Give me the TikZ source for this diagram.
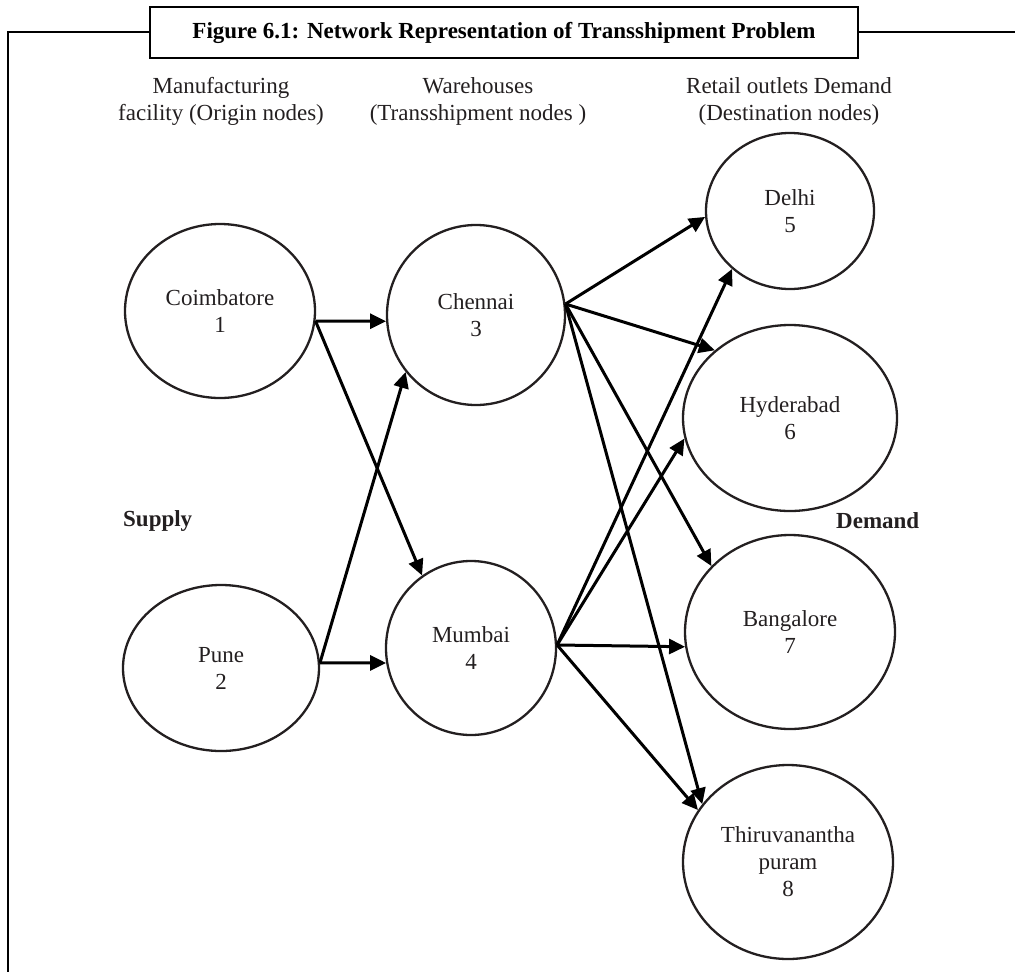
\documentclass[tikz,border=0pt]{standalone}
\usepackage{fontspec}
\setmainfont{Liberation Serif}
\usetikzlibrary{shapes.geometric,arrows.meta}
\definecolor{ink}{RGB}{35,31,32}
\newcommand\citytxt{\fontsize{23}{27}\selectfont}
\newcommand\titletxt{\fontsize{23}{26}\selectfont}
\begin{document}
\begin{tikzpicture}[x=1pt,y=-1pt,
  city/.style={ellipse,draw=ink,line width=2.3pt,inner sep=0pt,align=center,
    font=\citytxt,text=ink},
  flow/.style={line width=3pt,-{Triangle[length=16pt,width=15pt]}},
  head/.style={align=center,font=\citytxt,text=ink,inner sep=0pt},
  side/.style={anchor=base west,inner sep=0pt,font=\citytxt\bfseries,text=ink},
  frame/.style={line width=2.6pt},
]
\useasboundingbox (0,0) rectangle (1015,972);

% title box and the surrounding frame
\node[draw,frame,minimum width=708pt,minimum height=51pt,inner sep=0pt,
  font=\titletxt\bfseries] (ttl) at (504,32.5)
  {Figure 6.1: Network Representation of Transshipment Problem};
\draw[frame] (ttl.west |- 0,32) -- (8,32) -- (8,975);
\draw[frame] (ttl.east |- 0,32) -- (1015,32);

% column headings
\node[head] (hmf) at (221,101) {Manufacturing\\facility (Origin nodes)};
\node[head] (hwh) at (478,101) {Warehouses\\(Transshipment nodes )};
\node[head] (hrt) at (789,101) {Retail outlets Demand\\(Destination nodes)};
\node[side] (sup) at (123,526) {Supply};
\node[side] (dem) at (836,528) {Demand};

% origins
\node[city,minimum width=190pt,minimum height=174pt] (coim) at (220,311) {Coimbatore\\1};
\node[city,minimum width=196pt,minimum height=166pt] (pune) at (221,668) {Pune\\2};
% transshipment points
\node[city,minimum width=178pt,minimum height=180pt] (chen) at (476,315) {Chennai\\3};
\node[city,minimum width=170pt,minimum height=174pt] (mumb) at (471,648) {Mumbai\\4};
% destinations
\node[city,minimum width=168pt,minimum height=156pt] (delh) at (790,211) {Delhi\\5};
\node[city,minimum width=214pt,minimum height=186pt] (hyde) at (790,418) {Hyderabad\\6};
\node[city,minimum width=210pt,minimum height=194pt] (bang) at (790,632) {Bangalore\\7};
\node[city,minimum width=210pt,minimum height=194pt] (thir) at (788,862) {Thiruvanantha\\puram\\8};

% shipping routes
\draw[flow] (coim.-6) -- (chen.184);
\draw[flow] (coim.-6) -- (mumb.124);
\draw[flow] (pune.3) -- (chen.219);
\draw[flow] (pune.3) -- (mumb.190);
\draw[flow] (chen.7) -- (delh.184);
\draw[flow] (chen.7) -- (hyde.138);
\draw[flow] (chen.7) -- (bang.140);
\draw[flow] (chen.7) -- (thir.146);
\draw[flow] (mumb.2) -- (delh.225);
\draw[flow] (mumb.2) -- (hyde.191);
\draw[flow] (mumb.2) -- (bang.188);
\draw[flow] (mumb.2) -- (thir.150);
\end{tikzpicture}
\end{document}
